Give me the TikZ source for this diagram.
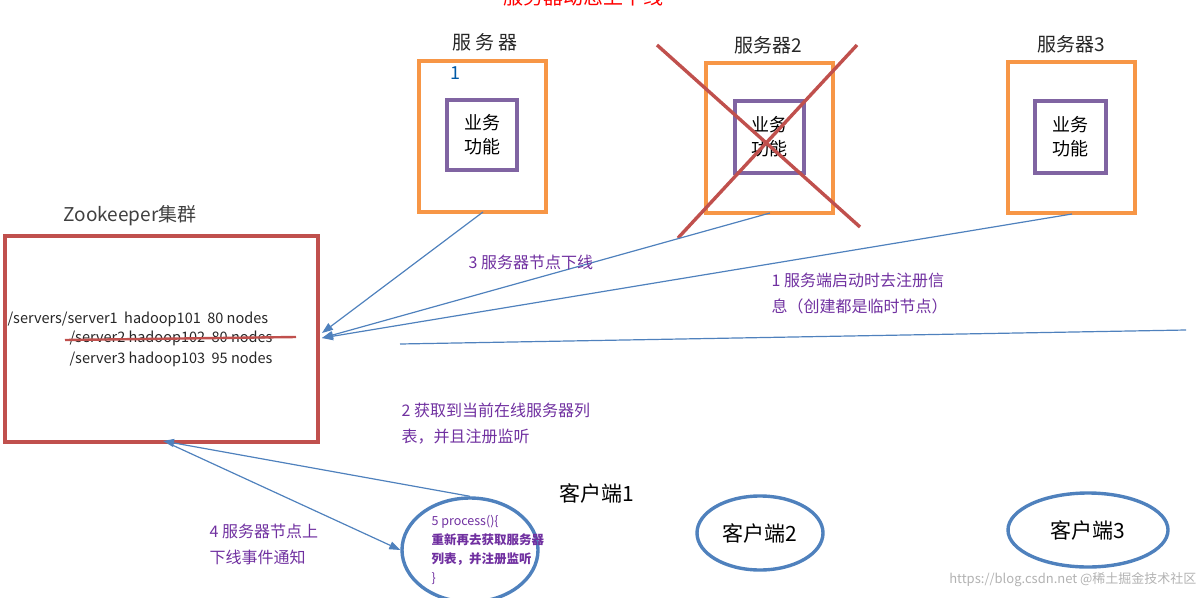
\documentclass[tikz,border=0pt]{standalone}
\usepackage{fontspec}
\setmainfont{Noto Sans CJK SC}
\usetikzlibrary{arrows.meta,shapes.geometric}
\definecolor{org}{HTML}{F79646}
\definecolor{pur}{HTML}{8064A2}
\definecolor{rd}{HTML}{C0504D}
\definecolor{bl}{HTML}{4F81BD}
\definecolor{tx}{HTML}{7030A0}
\tikzset{
 srv/.style={draw=org,line width=3.6pt},
 fun/.style={draw=pur,line width=3.4pt,align=center,font=\fontsize{18}{24}\selectfont,inner sep=0},
 lab/.style={font=\fontsize{19}{22}\selectfont,text=black!85},
 note/.style={text=tx,font=\fontsize{16}{26}\selectfont,align=left,anchor=west},
 con/.style={draw=bl,line width=1.2pt},
 arr/.style={con,-{Triangle[length=11pt,width=8pt]}},
 cli/.style={draw=bl,line width=3.4pt,ellipse},
 path/.style={font=\fontsize{14.5}{16}\selectfont,anchor=west,text=black!85}
}
\begin{document}
\begin{tikzpicture}[x=1pt,y=-1pt]
\useasboundingbox (0,0) rectangle (1204,597);
\clip (0,0) rectangle (1204,597);
\node[text=red,font=\fontsize{20}{22}\selectfont] (title) at (583,-3) {服务器动态上下线};
% servers
\draw[srv] (419,61) rectangle (546,212);
\coordinate (s1) at (483,212);
\node[lab] at (485,42) {服 务 器};
\node[text=teal!70!blue,font=\fontsize{18}{20}\selectfont] at (455,73) {1};
\node[fun,minimum width=70pt,minimum height=70pt] (f1) at (482,135) {业务\\功能};
\draw[srv] (706,63) rectangle (833,213);
\coordinate (s2) at (770,213);
\node[lab] at (768,45) {服务器2};
\node[fun,minimum width=69pt,minimum height=72pt] (f2) at (769.5,137) {业务\\功能};
\draw[rd,line width=3.4pt] (657,45) -- (860,227);
\draw[rd,line width=3.4pt] (857,45) -- (678,238);
\draw[srv] (1008,62) rectangle (1135,213);
\coordinate (s3) at (1072,214);
\node[lab] at (1071,44) {服务器3};
\node[fun,minimum width=71pt,minimum height=72pt] (f3) at (1070.5,137) {业务\\功能};
% zookeeper
\node[font=\fontsize{19}{22}\selectfont,text=black!75] (zkl) at (130,216) {Zookeeper集群};
\draw[rd,line width=3.6pt] (5,236) rectangle (318,442);
\node[path] (p1) at (4,319) {/servers/server1\ \ hadoop101\ \ 80 nodes};
\node[path] (p2) at (66,338) {/server2 hadoop102\ \ 80 nodes};
\draw[rd,line width=2.4pt] (65,340) -- (296,337);
\node[path] (p3) at (66,359) {/server3 hadoop103\ \ 95 nodes};
\coordinate (zk1) at (322,333);
\coordinate (zk2) at (322,338);
\coordinate (zkb) at (163,441);
\coordinate (zkb2) at (170,444);
\draw[arr] (s1) -- (zk1);
\draw[arr] (s2) -- (zk2);
\draw[arr] (s3) -- (zk2);
\coordinate (la) at (400,344);
\coordinate (lb) at (1186,330);
\draw[con] (la) -- (lb);
% notes
\node[note] at (465,262) {3 服务器节点下线};
\node[note] at (768,294) {1 服务端启动时去注册信\\息（创建都是临时节点）};
\node[note] at (398,424) {2 获取到当前在线服务器列\\表，并且注册监听};
\node[note] at (206,544) {4 服务器节点上\\下线事件通知};
% clients
\node[cli,minimum width=136pt,minimum height=104pt] (c1) at (470,550) {};
\node[text=tx,font=\fontsize{12.5}{19}\selectfont,align=left,anchor=west] at (428,550) {5 process()\{\\\textbf{重新再去获取服务器}\\\textbf{列表，并注册监听}\\\}};
\node[font=\fontsize{21}{24}\selectfont] at (597,493) {客户端1};
\draw[arr] (c1.north) -- (zkb);
\draw[arr] (zkb2) -- (c1.west);
\node[cli,minimum width=126pt,minimum height=74pt] (c2) at (760,533) {};
\node[font=\fontsize{21}{24}\selectfont] at (c2) {客户端2};
\node[cli,minimum width=160pt,minimum height=74pt] (c3) at (1088,530) {};
\node[font=\fontsize{21}{24}\selectfont] at (c3) {客户端3};
\node[text=black!30,font=\fontsize{13}{15}\selectfont,anchor=east] (wm) at (1200,580) {https://blog.csdn.net\ @稀土掘金技术社区};
\end{tikzpicture}
\end{document}
